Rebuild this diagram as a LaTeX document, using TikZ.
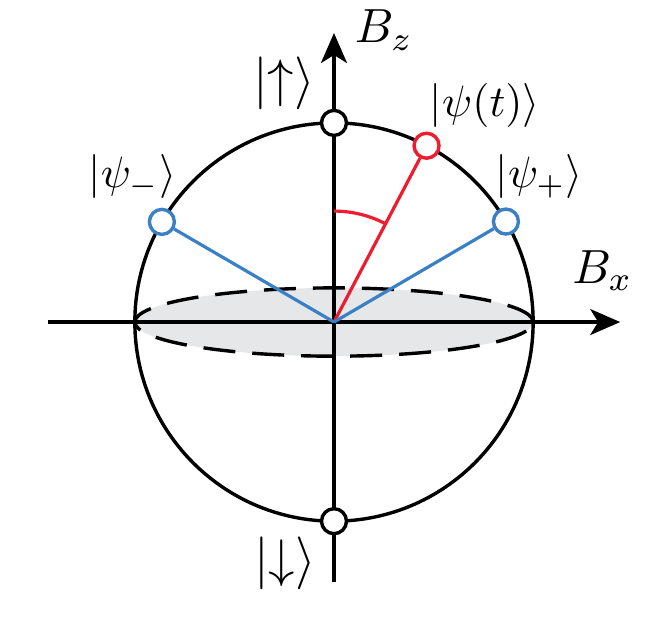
\documentclass[tikz,border=0pt]{standalone}
\usepackage{amsmath, amssymb}
\usetikzlibrary{arrows.meta}
\definecolor{bluestate}{HTML}{3B7FC4}
\definecolor{redstate}{HTML}{ED1C2E}
\definecolor{discgray}{HTML}{E6E7E8}
\tikzset{
  lab/.style={scale=2.2,inner sep=0pt},
  state/.style={draw,circle,fill=white,line width=1.7pt,inner sep=0pt,minimum size=12.5pt},
  axis/.style={->,>={Stealth[length=15pt,width=13pt,inset=4pt]},line width=1.7pt},
  vec/.style={line width=1.6pt}
}
\begin{document}
\begin{tikzpicture}
\useasboundingbox (-5.87,-5.29) rectangle (5.80,5.66);
\fill[discgray] (0,0) ellipse (3.5 and 0.6);
\coordinate (o) at (0,0);
\coordinate (xl) at (-5.03,0);
\coordinate (xr) at (5.03,0);
\coordinate (zb) at (0,-4.57);
\coordinate (zt) at (0,5.08);
\draw[line width=1.7pt] (0,0) circle (3.5);
\draw[axis] (xl) to (xr);
\draw[axis] (zb) to (zt);
\draw[line width=1.7pt,dash pattern=on 16pt off 8.5pt] (0,0) ellipse (3.5 and 0.6);
\node[state] (up)at(90:3.5){};
\node[state] (down)at(-90:3.5){};
\node[state,draw=redstate] (psit)at(62.3:3.5){};
\node[state,draw=bluestate] (psip)at(30.3:3.5){};
\node[state,draw=bluestate] (psim)at(149.8:3.5){};
\draw[vec,draw=redstate] (o) to (psit);
\draw[vec,draw=bluestate] (o) to (psip);
\draw[vec,draw=bluestate] (o) to (psim);
\draw[vec,draw=redstate] (90:1.95) arc (90:62.3:1.95);
\node[lab,scale=1.09] (bz)at(0.88,5.13){$B_z$};
\node[lab,scale=1.09] (bx)at(4.72,0.91){$B_x$};
\node[lab,scale=1.2] (uplab)at(-0.88,4.2){$|{\uparrow}\rangle$};
\node[lab,scale=1.2] (downlab)at(-0.86,-4.24){$|{\downarrow}\rangle$};
\node[lab] (psitlab)at(2.65,3.80){$|\psi(t)\rangle$};
\node[lab] (psiplab)at(3.61,2.55){$|\psi_+\rangle$};
\node[lab] (psimlab)at(-3.54,2.55){$|\psi_-\rangle$};
\end{tikzpicture}
\end{document}
